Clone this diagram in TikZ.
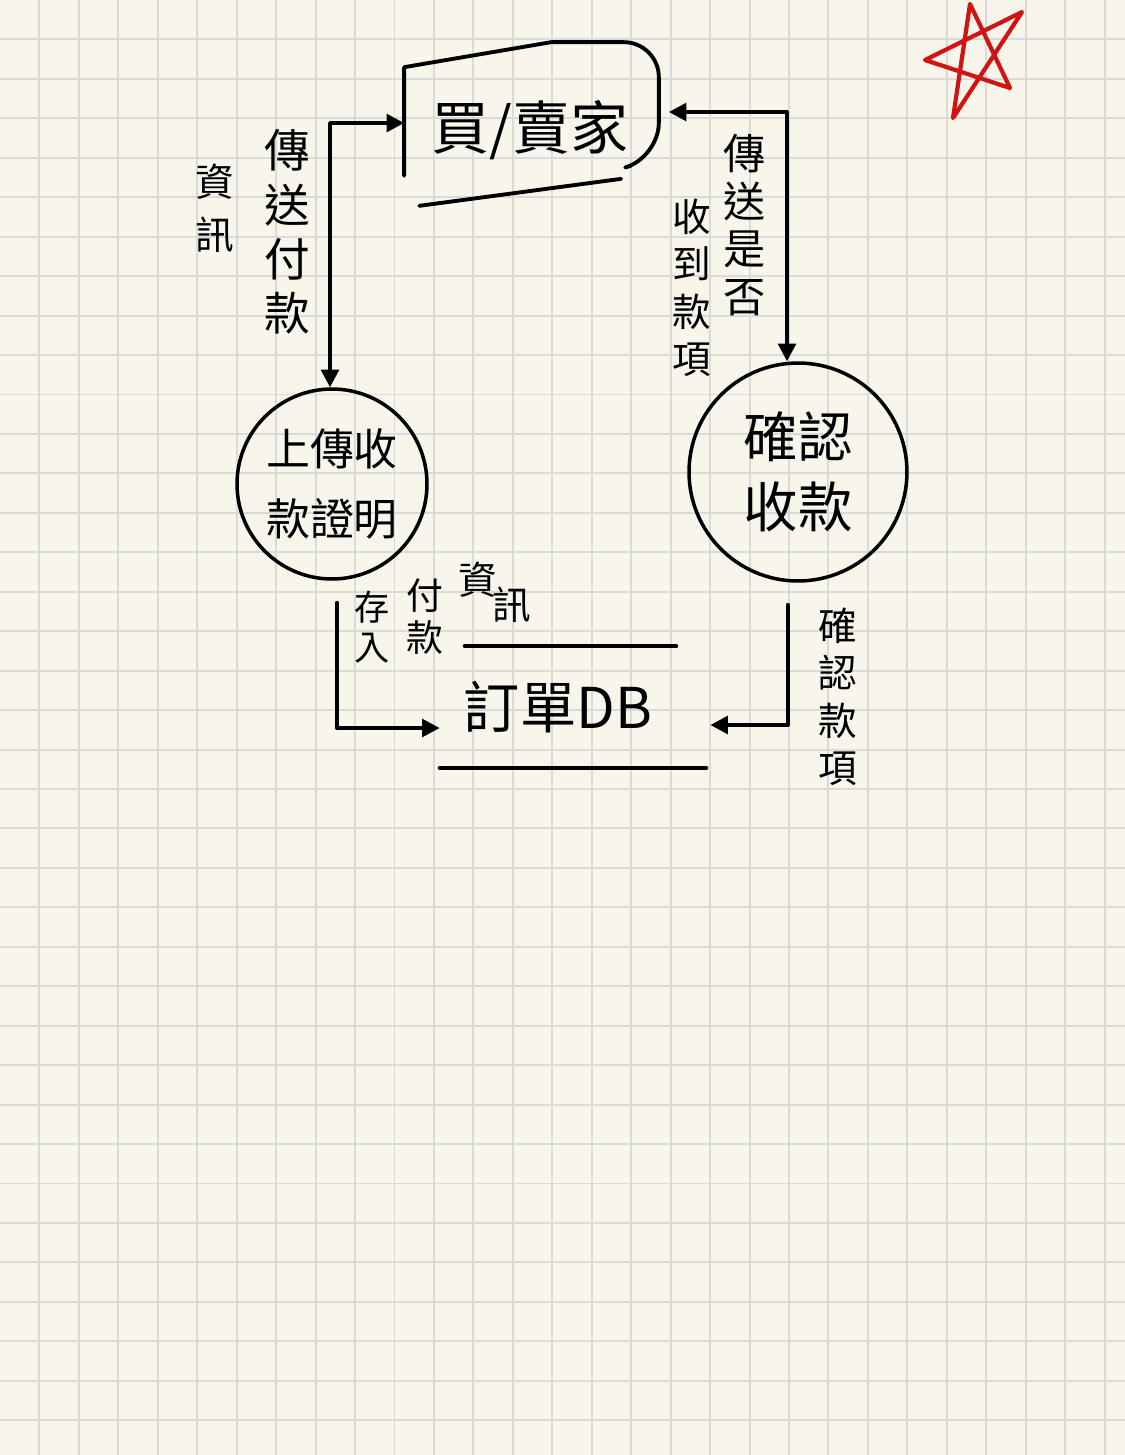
\documentclass[tikz,border=0pt]{standalone}
\usepackage{fontspec}
\newfontfamily\cjk{Noto Sans CJK TC}
\usetikzlibrary{arrows.meta,calc}
\definecolor{paper}{HTML}{F8F6EA}
\definecolor{gridgray}{HTML}{DADADA}
\definecolor{starred}{HTML}{D01414}
\tikzset{
  line/.style={line width=2.2pt, line join=round, line cap=round},
  flow/.style={line, {Triangle[length=10pt,width=10pt]}-{Triangle[length=10pt,width=10pt]}},
  oneway/.style={line, -{Triangle[length=10pt,width=10pt]}},
  proc/.style={circle, draw, line width=2pt, align=center},
  vlabel/.style={align=center},
}
\begin{document}
\begin{tikzpicture}[x=0.02cm, y=0.02cm]
\tikzstyle{every node}+=[inner sep=0pt, font=\cjk]
% paper
\fill [paper] (0,0) rectangle (1125,-1455);
\useasboundingbox (0,0) rectangle (1125,-1455);
\foreach \i in {1,...,28} \draw [gridgray, line width=1.1pt] (\i*39.45,0) -- (\i*39.45,-1455);
\foreach \j in {1,...,36} \draw [gridgray, line width=1.1pt] (0,-\j*39.45) -- (1125,-\j*39.45);
% external entity
\node (ent) [minimum width=5.14cm, minimum height=3.1cm, font=\cjk\fontsize{33}{36}\selectfont] at (530,-130) {買/賣家};
\draw [line] ($(ent.south west)+(3,32)$) -- ($(ent.north west)+(3,-15)$) -- ($(ent.north west)+(150,10)$)
  [rounded corners=0.7cm] -- ($(ent.north east)+(0,10)$) -- ($(ent.south east)+(0,50)$) -- ($(ent.south east)+(-28,42)$);
\draw [line] ($(ent.south west)+(18,2)$) -- ($(ent.south west)+(220,29)$);
% processes
\node (lp) [proc, minimum size=3.8cm, font=\cjk\fontsize{25}{40}\selectfont] at (332,-484) {上傳收\\款證明};
\node (rp) [proc, minimum size=4.36cm, font=\cjk\fontsize{31}{40}\selectfont] at (798,-472) {確認\\收款};
% data store
\node (store) [minimum width=5.32cm, minimum height=2.42cm, font=\cjk\fontsize{32}{36}\selectfont] at (558,-707) {訂單DB};
\draw [line] ($(store.north west)+(40,0)$) -- ($(store.north east)+(-15,0)$);
\draw [line] ($(store.south west)+(15,0)$) -- ($(store.south east)+(15,0)$);
% flows
\draw [flow] ($(lp.north)+(-2,0)$) |- ($(ent.west)+(3,7)$);
\draw [flow] ($(rp.north)+(-11,0)$) |- ($(ent.east)+(10,18)$);
\draw [oneway] ($(lp.south)+(5,-22)$) |- ($(store.west)+(15,-21)$);
\draw [oneway] ($(rp.south)+(-10,-22)$) |- ($(store.east)+(19,-18)$);
% flow labels
\node (l1) [vlabel, font=\cjk\fontsize{26}{31}\selectfont] at (287,-232) {傳\\送\\付\\款};
\node (l2) [vlabel, font=\cjk\fontsize{22}{30}\selectfont] at (215,-208) {資\\訊};
\node (r1) [vlabel, font=\cjk\fontsize{24}{27}\selectfont] at (745,-225) {傳\\送\\是\\否};
\node (r2) [vlabel, font=\cjk\fontsize{22}{27}\selectfont] at (692,-288) {收\\到\\款\\項};
\node (b1) [vlabel, font=\cjk\fontsize{20}{23}\selectfont] at (372,-627) {存\\入};
\node (b2) [vlabel, font=\cjk\fontsize{21}{24}\selectfont] at (425,-617) {付\\款};
\node (b3) [font=\cjk\fontsize{22}{24}\selectfont] at (478,-580) {資};
\node (b4) [font=\cjk\fontsize{22}{24}\selectfont] at (512,-605) {訊};
\node (b5) [vlabel, font=\cjk\fontsize{22}{27}\selectfont] at (838,-697) {確\\認\\款\\項};
% star
\draw [starred, line width=2.4pt, line join=round, line cap=round]
  (970,-4) -- (953,-118) -- (1022,-12) -- (925,-60) -- (1010,-88) -- cycle;
\end{tikzpicture}
\end{document}
